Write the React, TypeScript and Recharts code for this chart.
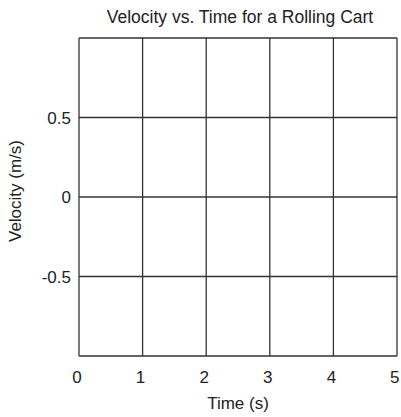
import React from "react";
import { CartesianGrid, Line, LineChart, XAxis, YAxis } from "recharts";

// blank graph: the axes and grid only, no measurements plotted yet
const times = [0, 1, 2, 3, 4, 5];
const velocities: (number | null)[] = [null, null, null, null, null, null];
const xTicks = [0, 1, 2, 3, 4, 5];
const yTicks = [-1, -0.5, 0, 0.5, 1];
const yTickLabels: Record<string, string> = { "-1": "", "-0.5": "-0.5", "0": "0", "0.5": "0.5", "1": "" };

const data = times.map((t, i) => ({ time: t, velocity: velocities[i] }));

const font = "'Liberation Sans', Arial, sans-serif";
const textColor = "#222";
const fs = 17;

const App: React.FC = () => {
  return (
    <div style={{ position: "absolute", left: 0, top: 0, width: 401, height: 417, fontFamily: font }}>
      <div
        style={{
          position: "absolute",
          left: 79,
          top: 7,
          width: 318,
          paddingLeft: 4,
          boxSizing: "border-box",
          textAlign: "center",
          whiteSpace: "nowrap",
          fontSize: 17.5,
          lineHeight: "20px",
          color: textColor,
        }}
      >
        Velocity vs. Time for a Rolling Cart
      </div>
      <LineChart width={401} height={417} data={data} margin={{ top: 38, right: 4, bottom: 0, left: 0 }}>
        <CartesianGrid stroke="#333" strokeWidth={1.3} />
        <XAxis
          dataKey="time"
          type="number"
          domain={[0, 5]}
          ticks={xTicks}
          height={61}
          axisLine={false}
          tickLine={false}
          tickMargin={9}
          tick={{ fontSize: fs, fill: textColor, fontFamily: font, dx: -2 }}
          label={{ value: "Time (s)", position: "insideBottom", offset: 8, fontSize: fs, fill: textColor, fontFamily: font }}
        />
        <YAxis
          type="number"
          domain={[-1, 1]}
          allowDataOverflow
          ticks={yTicks}
          interval={0}
          width={79}
          axisLine={false}
          tickLine={false}
          tickFormatter={(v: number) => yTickLabels[String(v)] ?? String(v)}
          tick={{ fontSize: fs, fill: textColor, fontFamily: font }}
          label={{
            value: "Velocity (m/s)",
            angle: -90,
            position: "insideLeft",
            offset: 15,
            dy: -6,
            textAnchor: "middle",
            fontSize: fs,
            fill: textColor,
            fontFamily: font,
          }}
        />
        <Line dataKey="velocity" stroke="#000" dot={false} isAnimationActive={false} />
      </LineChart>
    </div>
  );
};

export default App;
